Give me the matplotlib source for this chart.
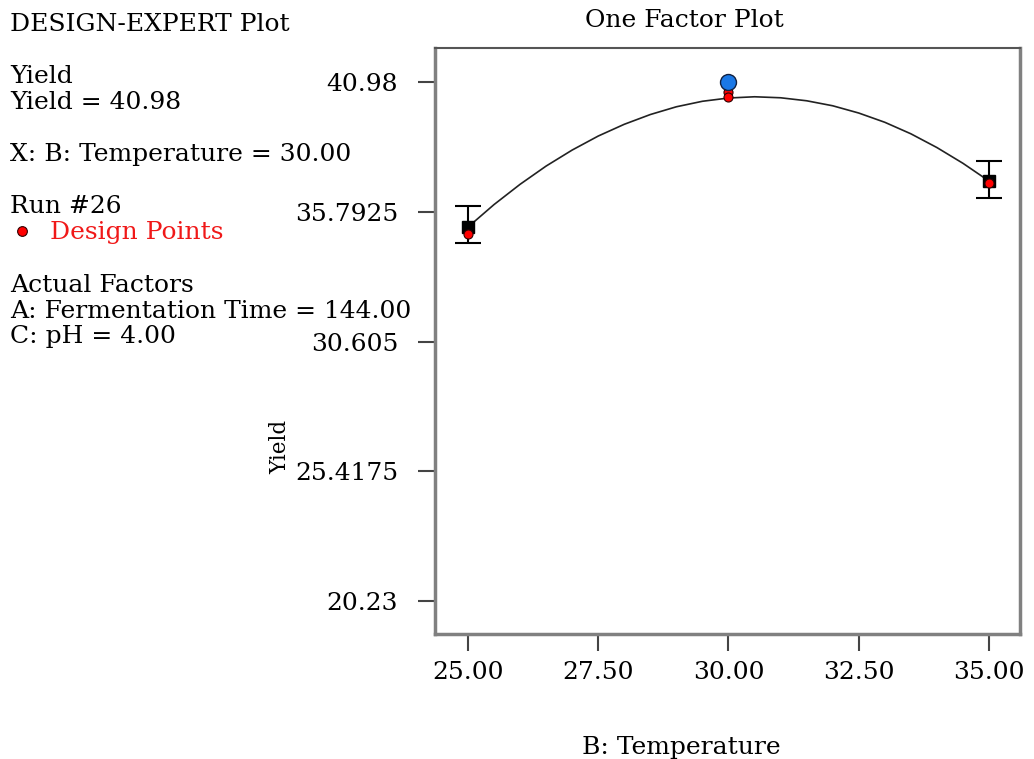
import numpy as np
import matplotlib
matplotlib.use("Agg")
import matplotlib.pyplot as plt

# model curve
curve_temp = [25, 25.5, 26, 26.5, 27, 27.5, 28, 28.5, 29, 29.5, 30,
              30.5, 31, 31.5, 32, 32.5, 33, 33.5, 34, 34.5, 35]
curve_yield = [35.18, 36.08, 36.89, 37.62, 38.26, 38.82, 39.29, 39.68, 39.99, 40.21, 40.34,
               40.39, 40.35, 40.23, 40.03, 39.74, 39.37, 38.91, 38.36, 37.73, 37.02]

# predictions with confidence bars
bar_temp = [25, 35]
bar_pred = [35.18, 37.02]
bar_low = [34.54, 36.34]
bar_high = [36.02, 37.82]

# design points
design_temp = [25, 30, 30, 35]
design_yield = [34.90, 40.58, 40.38, 36.94]

# selected run
run_temp = [30]
run_yield = [40.98]

x_ticks = [25.00, 27.50, 30.00, 32.50, 35.00]
y_ticks = [20.23, 25.4175, 30.605, 35.7925, 40.98]
y_tick_labels = ["20.23", "25.4175", "30.605", "35.7925", "40.98"]

plt.rcParams['font.family'] = ['DejaVu Serif']
FS = 18

fig = plt.figure(figsize=(10.34, 7.59), dpi=100)
W, H = 1034, 759
ax = fig.add_axes([435 / W, 1 - 634 / H, (1020 - 435) / W, (634 - 48) / H])

ax.plot(curve_temp, curve_yield, color='#222222', lw=1.2, zorder=2)

err = [np.array(bar_pred) - np.array(bar_low), np.array(bar_high) - np.array(bar_pred)]
ax.errorbar(bar_temp, bar_pred, yerr=err, fmt='s', color='black', ms=8,
            ecolor='black', elinewidth=1.5, capsize=9.5, capthick=1.5, zorder=3)
ax.plot(design_temp, design_yield, 'o', color='#ff0000', mec='#300000', mew=0.8,
        ms=6.5, zorder=4)
ax.plot(run_temp, run_yield, 'o', color='#1a78e6', mec='#102040', mew=1,
        ms=11.5, zorder=5)

ax.set_xlim(24.367, 35.595)
ax.set_ylim(18.91, 42.34)
ax.set_xticks(x_ticks)
ax.set_xticklabels([f"{t:.2f}" for t in x_ticks])
ax.set_yticks(y_ticks)
ax.set_yticklabels(y_tick_labels)

ax.tick_params(axis='x', direction='out', length=12.5, width=1.5, color='#444444',
               labelsize=FS, pad=7)
ax.tick_params(axis='y', direction='out', length=12.5, width=1.5, color='#444444',
               labelsize=FS, pad=14)
for side in ['left', 'bottom', 'right']:
    ax.spines[side].set_color('#808080')
    ax.spines[side].set_linewidth(2.5)
ax.spines['top'].set_color('#555555')
ax.spines['top'].set_linewidth(1.5)

# titles and labels
fig.text(684 / W, 1 - 27 / H, "One Factor Plot", ha='center', va='baseline', fontsize=FS)
fig.text(681 / W, 1 - 754 / H, "B: Temperature", ha='center', va='baseline', fontsize=FS)
fig.text(280 / W, 1 - 447 / H, "Yield", ha='center', va='center', rotation=90, fontsize=15.5)

# info panel on the left
info = [
    ("DESIGN-EXPERT Plot", 31),
    ("Yield", 83),
    ("Yield = 40.98", 109),
    ("X: B: Temperature = 30.00", 161),
    ("Run #26", 213),
    ("Actual Factors", 292),
    ("A: Fermentation Time = 144.00", 318),
    ("C: pH = 4.00", 343),
]
for txt, base in info:
    fig.text(10 / W, 1 - base / H, txt, ha='left', va='baseline', fontsize=FS)

fig.text(50 / W, 1 - 239 / H, "Design Points", ha='left', va='baseline',
         fontsize=FS, color='#f01818')
fig.lines.append(plt.Line2D([22 / W], [1 - 231 / H], transform=fig.transFigure,
                            marker='o', color='#ff0000', mec='#300000', mew=0.8, ms=7))

fig.savefig("out.png", dpi=100)
